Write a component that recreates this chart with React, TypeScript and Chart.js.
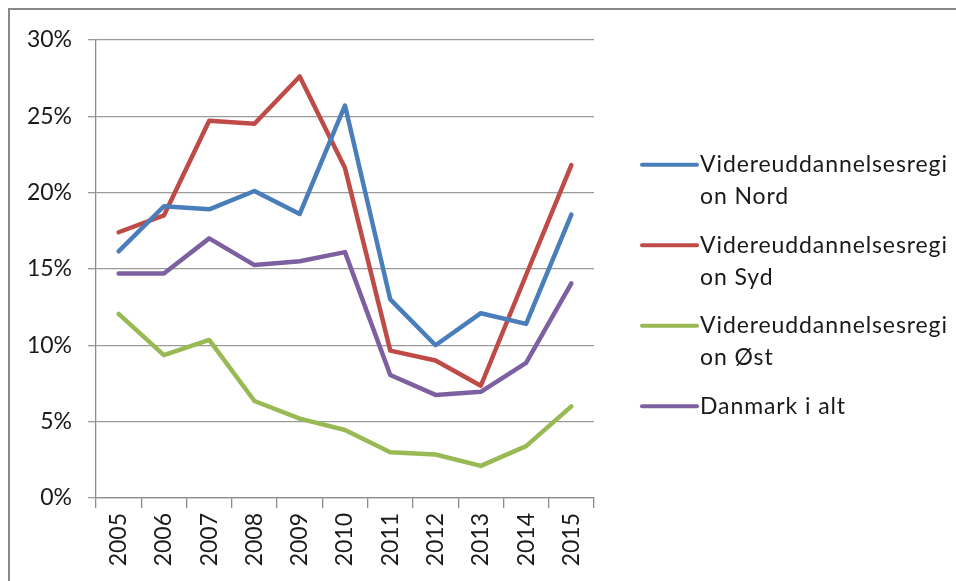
import React, { useEffect, useRef } from "react";
import { Chart, registerables } from "chart.js";

Chart.register(...registerables);

const YEARS = ["2005", "2006", "2007", "2008", "2009", "2010", "2011", "2012", "2013", "2014", "2015"];

const NORD = [16.15, 19.1, 18.9, 20.1, 18.6, 25.7, 13.0, 10.0, 12.1, 11.4, 18.55];
const SYD = [17.4, 18.5, 24.7, 24.5, 27.6, 21.6, 9.65, 9.0, 7.35, 14.6, 21.8];
const OST = [12.05, 9.35, 10.35, 6.35, 5.2, 4.45, 3.0, 2.85, 2.1, 3.4, 6.0];
const DANMARK = [14.7, 14.7, 17.0, 15.25, 15.5, 16.1, 8.05, 6.75, 6.95, 8.85, 14.05];

const SERIES_LABELS = [
  "Videreuddannelsesregion Nord",
  "Videreuddannelsesregion Syd",
  "Videreuddannelsesregion Øst",
  "Danmark i alt",
];
const LEGEND_LINES = [
  ["Videreuddannelsesregi", "on Nord"],
  ["Videreuddannelsesregi", "on Syd"],
  ["Videreuddannelsesregi", "on Øst"],
  ["Danmark i alt"],
];
const COLORS = ["#4A7EBB", "#BE4B48", "#98B954", "#7D60A0"];

const Y_MIN = 0;
const Y_MAX = 30;
const Y_STEP = 5;

const FONT = "Lato";

const legendPlugin = {
  id: "wrappedLegend",
  afterDraw(chart: any) {
    const ctx = chart.ctx;
    const area = chart.chartArea;
    const x0 = area.right + 48;
    const lineLen = 55;
    const textX = x0 + lineLen + 3;
    const lineH = 32;
    const itemStep = 80.5;
    let y = area.top + 125;
    ctx.save();
    ctx.font = `23px ${FONT}`;
    try {
      (ctx as any).letterSpacing = "0.9px";
    } catch (e) {}
    ctx.textBaseline = "middle";
    ctx.textAlign = "left";
    chart.data.datasets.forEach((ds: any, i: number) => {
      ctx.strokeStyle = ds.borderColor;
      ctx.lineWidth = 4;
      ctx.lineCap = "round";
      ctx.beginPath();
      ctx.moveTo(x0, y);
      ctx.lineTo(x0 + lineLen, y);
      ctx.stroke();
      ctx.fillStyle = "#1a1a1a";
      LEGEND_LINES[i].forEach((t, j) => {
        ctx.fillText(t, textX, y + j * lineH);
      });
      y += itemStep;
    });
    ctx.restore();
  },
};

export default function App() {
  const ref = useRef<HTMLCanvasElement | null>(null);

  useEffect(() => {
    document.documentElement.style.overflow = "hidden";
    document.body.style.overflow = "hidden";
    if (!ref.current) return;
    const series = [NORD, SYD, OST, DANMARK];
    const chart = new Chart(ref.current, {
      type: "line",
      data: {
        labels: YEARS,
        datasets: series.map((d, i) => ({
          label: SERIES_LABELS[i],
          data: d,
          borderColor: COLORS[i],
          backgroundColor: COLORS[i],
          borderWidth: 4.5,
          pointRadius: 0,
          tension: 0,
          borderCapStyle: "round",
          borderJoinStyle: "round",
        })),
      },
      options: {
        animation: false,
        responsive: false,
        maintainAspectRatio: false,
        layout: { padding: { top: 29, right: 362, bottom: 0, left: 0 } },
        plugins: {
          legend: { display: false },
          tooltip: { enabled: false },
        },
        scales: {
          x: {
            type: "category",
            offset: true,
            afterFit: (s: any) => {
              s.height = 83;
            },
            grid: {
              offset: true,
              drawOnChartArea: false,
              drawTicks: true,
              tickLength: 10,
              color: "#8c8c8c",
              lineWidth: 1.3,
            },
            border: { display: true, color: "#8c8c8c", width: 1.3 },
            ticks: {
              minRotation: 90,
              maxRotation: 90,
              padding: 5,
              color: "#1a1a1a",
              font: { family: FONT, size: 23 },
              autoSkip: false,
            },
          },
          y: {
            min: Y_MIN,
            max: Y_MAX,
            afterFit: (s: any) => {
              s.width = 86;
            },
            grid: {
              color: "#9a9a9a",
              lineWidth: 1.3,
              drawTicks: true,
              tickLength: 8,
            },
            border: { display: true, color: "#8c8c8c", width: 1.3 },
            ticks: {
              stepSize: Y_STEP,
              padding: 16,
              color: "#1a1a1a",
              font: { family: FONT, size: 23 },
              callback: (v: any) => `${v}%`,
            },
          },
        },
      },
      plugins: [legendPlugin],
    } as any);
    return () => chart.destroy();
  }, []);

  return (
    <div
      style={{
        position: "fixed",
        left: 8,
        top: 8,
        width: 960,
        height: 590,
        boxSizing: "border-box",
        borderTop: "2px solid #888",
        borderLeft: "2px solid #888",
        background: "#fff",
      }}
    >
      <canvas ref={ref} width={946} height={571} style={{ display: "block" }} />
    </div>
  );
}
